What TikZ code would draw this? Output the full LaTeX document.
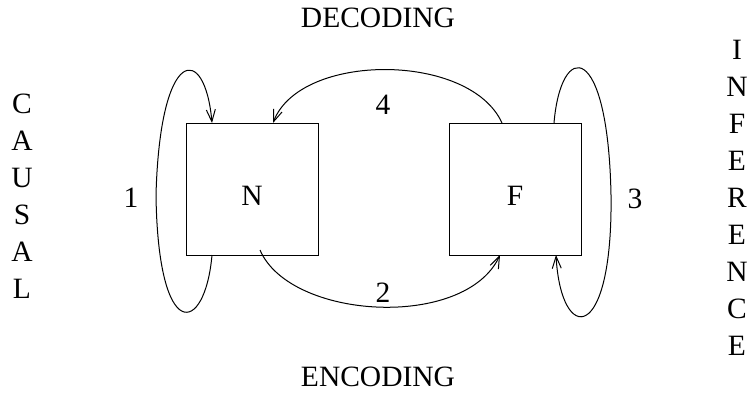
\documentclass[tikz,border=0pt]{standalone}
\usepackage{fontspec}
\setmainfont{Liberation Serif}
\usetikzlibrary{arrows.meta}
\begin{document}
\begin{tikzpicture}[x=1pt,y=-1pt,
  every node/.style={font=\fontsize{29.5}{37}\selectfont},
  boxnode/.style={draw,line width=1pt,minimum width=132pt,minimum height=132pt,outer sep=0pt,inner sep=0pt,text height=32pt},
  conn/.style={line width=1pt,-{Straight Barb[length=12pt,width=9pt,line width=1pt]}},
  vert/.style={align=center,inner sep=0pt}]
\useasboundingbox (0,0) rectangle (747,392);
\node[boxnode] (N) at (252,189) {N};
\node[boxnode] (F) at (515,189) {F};
\node (dec) at (378,18) {DECODING};
\node (enc) at (378,377) {ENCODING};
\node[vert] (causal) at (22,196) {C\\A\\U\\S\\A\\L};
\node[vert] (inf) at (737,198) {I\\N\\F\\E\\R\\E\\N\\C\\E};
\node (l1) at (131,198) {1};
\node (l3) at (635,199) {3};
\node (l4) at (383,105) {4};
\node (l2) at (383,293) {2};
% loop 1
\draw[conn] ([xshift=26pt]N.south west) .. controls +(-7,80) and +(2,150) .. (156,195)
  .. controls +(4,-150) and +(-7,-80) .. ([xshift=26pt]N.north west);
% loop 3
\draw[conn] ([xshift=-27pt]F.north east) .. controls +(7,-83) and +(-3,-155) .. (611,195)
  .. controls +(2,150) and +(5,90) .. ([xshift=-25pt]F.south east);
% arc 4
\draw[conn] ([xshift=-13pt]F.north) .. controls +(-32,-71) and +(27,-71) .. ([xshift=21pt]N.north);
% arc 2
\draw[conn] ([xshift=8pt,yshift=5pt]N.south) .. controls +(30,70) and +(-35,75) .. ([xshift=-15pt]F.south);
\end{tikzpicture}
\end{document}
